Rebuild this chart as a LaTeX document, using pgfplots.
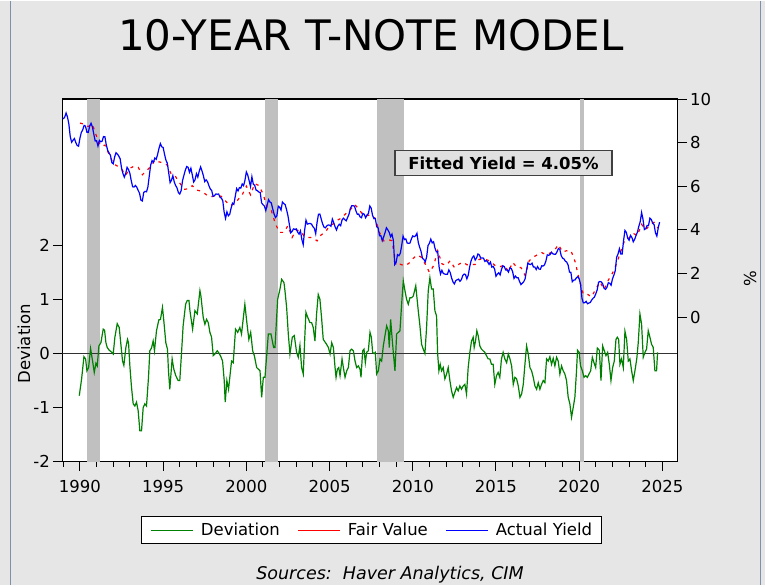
\documentclass[border=0pt]{standalone}
\usepackage{pgfplots}
\pgfplotsset{compat=1.18}
\usepackage{fontspec}
\setmainfont{DejaVu Sans}
\definecolor{bgc}{RGB}{230,230,230}
\definecolor{bandc}{RGB}{192,192,192}
\definecolor{devc}{RGB}{0,128,0}
\definecolor{framec}{RGB}{125,145,170}
\definecolor{boxc}{RGB}{224,224,224}
\newcommand{\tf}{\fontsize{16.5}{18}\selectfont}
\newcommand{\legline}[1]{\textcolor{#1}{\rule[4.6pt]{42pt}{1.4pt}}}
\newcommand{\LEG}{\legline{devc}\hspace{8pt}Deviation\hspace{18pt}\legline{red}\hspace{8pt}Fair Value\hspace{18pt}\legline{blue}\hspace{8pt}Actual Yield}
\begin{document}
\begin{tikzpicture}[x=1pt,y=1pt]
\fill[bgc] (0,0) rectangle (765,584);
\draw[framec, line width=1.5pt] (10.5,0) -- (10.5,584);
\draw[framec, line width=1.5pt] (760.5,0) -- (760.5,584);
\node[anchor=base, font=\fontsize{42}{42}\selectfont] at (371,534) {10-YEAR T-NOTE MODEL};
\begin{axis}[
  at={(62.3pt,123pt)}, anchor=south west, scale only axis,
  width=615.4pt, height=362.7pt,
  xmin=1988.94, xmax=2025.92, ymin=-2, ymax=4.7,
  axis background/.style={fill=white},
  axis line style={line width=1.2pt},
  tick pos=left, tick align=outside,
  major tick length=9pt, minor tick length=5pt,
  tick style={black, line width=1pt},
  xtick={1990,1995,2000,2005,2010,2015,2020,2025},
  xticklabels={1990,1995,2000,2005,2010,2015,2020,2025},
  minor xtick={1989,1990,...,2025},
  ytick={-2,-1,0,1,2},
  yticklabels={-2,-1,0,1,2},
  ticklabel style={font=\tf},
  xticklabel style={yshift=-6pt},
]
\addplot[fill=bandc, draw=none] coordinates {(1990.45,-2) (1990.45,4.7) (1991.22,4.7) (1991.22,-2)} -- cycle;
\addplot[fill=bandc, draw=none] coordinates {(2001.11,-2) (2001.11,4.7) (2001.92,4.7) (2001.92,-2)} -- cycle;
\addplot[fill=bandc, draw=none] coordinates {(2007.85,-2) (2007.85,4.7) (2009.45,4.7) (2009.45,-2)} -- cycle;
\addplot[fill=bandc, draw=none] coordinates {(2020.06,-2) (2020.06,4.7) (2020.29,4.7) (2020.29,-2)} -- cycle;
\addplot[color=black!80, line width=1.3pt] coordinates {(1988.94,0) (2025.92,0)};
\addplot[color=devc, line width=1.2pt] table[row sep=\\] {
x y\\
1989.96 -0.78\\ 1990.10 -0.47\\ 1990.24 -0.06\\ 1990.34 -0.10\\ 1990.42 -0.32\\ 1990.52 -0.26\\
1990.64 0.09\\ 1990.76 -0.14\\ 1990.86 -0.35\\ 1990.96 -0.18\\ 1991.04 -0.23\\ 1991.14 0.14\\
1991.26 0.20\\ 1991.40 0.45\\ 1991.48 0.43\\ 1991.56 0.20\\ 1991.64 0.11\\ 1991.76 0.06\\
1991.92 0.02\\ 1992.00 -0.01\\ 1992.10 0.30\\ 1992.24 0.55\\ 1992.36 0.48\\ 1992.46 0.17\\
1992.56 -0.14\\ 1992.64 -0.22\\ 1992.76 0.11\\ 1992.86 0.26\\ 1992.92 0.20\\ 1993.00 -0.23\\
1993.10 -0.63\\ 1993.20 -0.93\\ 1993.30 -0.97\\ 1993.40 -0.90\\ 1993.50 -1.06\\ 1993.60 -1.43\\
1993.70 -1.43\\ 1993.80 -1.00\\ 1993.90 -0.93\\ 1994.00 -0.97\\ 1994.12 -0.44\\ 1994.20 0.05\\
1994.30 0.10\\ 1994.40 0.23\\ 1994.48 0.05\\ 1994.60 0.42\\ 1994.74 0.62\\ 1994.84 0.63\\
1994.96 0.85\\ 1995.06 0.54\\ 1995.16 0.20\\ 1995.26 0.08\\ 1995.32 -0.32\\ 1995.40 -0.66\\
1995.54 -0.10\\ 1995.64 -0.29\\ 1995.76 -0.41\\ 1995.90 -0.50\\ 1996.00 -0.50\\ 1996.10 -0.01\\
1996.20 0.51\\ 1996.35 0.91\\ 1996.45 0.98\\ 1996.55 0.98\\ 1996.61 0.79\\ 1996.77 0.45\\
1996.91 0.79\\ 1997.05 0.73\\ 1997.21 1.16\\ 1997.27 1.06\\ 1997.41 0.66\\ 1997.51 0.54\\
1997.61 0.63\\ 1997.71 0.57\\ 1997.81 0.39\\ 1997.91 0.30\\ 1998.01 -0.04\\ 1998.11 -0.01\\
1998.25 0.05\\ 1998.37 0.00\\ 1998.47 -0.06\\ 1998.57 -0.14\\ 1998.67 -0.50\\ 1998.73 -0.90\\
1998.83 -0.50\\ 1998.93 -0.66\\ 1999.11 -0.14\\ 1999.21 -0.17\\ 1999.35 0.45\\ 1999.48 0.39\\
1999.61 0.48\\ 1999.71 0.36\\ 1999.91 0.91\\ 2000.03 0.57\\ 2000.15 0.26\\ 2000.26 0.39\\
2000.38 0.05\\ 2000.48 -0.04\\ 2000.62 -0.26\\ 2000.82 -0.32\\ 2000.92 -0.81\\ 2001.02 -0.44\\
2001.12 -0.44\\ 2001.32 0.36\\ 2001.48 0.36\\ 2001.64 0.11\\ 2001.72 0.11\\ 2001.88 1.00\\
2002.02 1.19\\ 2002.12 1.37\\ 2002.26 1.31\\ 2002.32 1.16\\ 2002.42 0.85\\ 2002.52 0.36\\
2002.62 -0.01\\ 2002.76 0.30\\ 2002.88 0.33\\ 2003.02 0.02\\ 2003.12 -0.07\\ 2003.22 0.15\\
2003.32 -0.26\\ 2003.42 -0.38\\ 2003.52 0.36\\ 2003.58 0.76\\ 2003.66 0.69\\ 2003.82 0.57\\
2003.92 0.57\\ 2004.02 0.48\\ 2004.12 0.23\\ 2004.22 0.73\\ 2004.32 1.09\\ 2004.42 1.00\\
2004.52 0.66\\ 2004.62 0.26\\ 2004.82 0.17\\ 2004.93 0.11\\ 2005.03 -0.01\\ 2005.13 0.20\\
2005.23 0.11\\ 2005.33 -0.26\\ 2005.39 -0.44\\ 2005.47 -0.29\\ 2005.55 -0.26\\ 2005.63 -0.41\\
2005.75 -0.10\\ 2005.83 -0.26\\ 2005.93 -0.44\\ 2006.03 -0.32\\ 2006.13 -0.26\\ 2006.23 0.05\\
2006.33 0.08\\ 2006.43 0.05\\ 2006.53 -0.14\\ 2006.63 -0.26\\ 2006.73 -0.23\\ 2006.83 -0.29\\
2006.89 -0.44\\ 2006.99 0.05\\ 2007.07 0.08\\ 2007.15 -0.17\\ 2007.23 0.02\\ 2007.33 0.05\\
2007.43 0.39\\ 2007.51 0.30\\ 2007.59 0.02\\ 2007.67 0.00\\ 2007.75 0.02\\ 2007.83 -0.38\\
2007.93 -0.32\\ 2008.03 -0.10\\ 2008.13 -0.14\\ 2008.23 0.14\\ 2008.33 0.33\\ 2008.43 0.51\\
2008.53 0.42\\ 2008.59 0.11\\ 2008.67 0.63\\ 2008.73 0.39\\ 2008.83 0.02\\ 2008.93 -0.32\\
2009.03 0.36\\ 2009.13 0.39\\ 2009.23 0.42\\ 2009.33 0.91\\ 2009.43 1.34\\ 2009.53 1.16\\
2009.63 1.00\\ 2009.73 0.91\\ 2009.83 1.03\\ 2009.93 1.03\\ 2010.03 1.06\\ 2010.18 1.25\\
2010.33 0.79\\ 2010.43 0.51\\ 2010.53 0.17\\ 2010.63 0.08\\ 2010.73 0.00\\ 2010.83 0.48\\
2010.93 1.16\\ 2011.03 1.40\\ 2011.13 1.19\\ 2011.23 1.19\\ 2011.33 0.79\\ 2011.43 0.69\\
2011.49 0.02\\ 2011.57 -0.32\\ 2011.65 -0.20\\ 2011.73 -0.32\\ 2011.83 -0.26\\ 2011.93 -0.47\\
2012.03 -0.38\\ 2012.13 -0.26\\ 2012.23 -0.50\\ 2012.33 -0.69\\ 2012.43 -0.81\\ 2012.53 -0.72\\
2012.63 -0.63\\ 2012.73 -0.69\\ 2012.83 -0.60\\ 2012.93 -0.66\\ 2013.03 -0.60\\ 2013.13 -0.57\\
2013.23 -0.75\\ 2013.33 -0.26\\ 2013.43 0.02\\ 2013.53 0.23\\ 2013.63 0.30\\ 2013.69 0.11\\
2013.77 0.23\\ 2013.85 0.42\\ 2013.93 0.33\\ 2014.03 0.14\\ 2014.13 0.08\\ 2014.23 0.05\\
2014.33 0.02\\ 2014.43 -0.04\\ 2014.53 -0.10\\ 2014.63 -0.10\\ 2014.73 -0.20\\ 2014.83 -0.20\\
2014.93 -0.57\\ 2015.03 -0.41\\ 2015.13 -0.35\\ 2015.23 -0.44\\ 2015.33 -0.10\\ 2015.43 0.02\\
2015.53 -0.10\\ 2015.64 -0.17\\ 2015.74 -0.01\\ 2015.84 -0.10\\ 2015.94 -0.23\\ 2016.04 -0.57\\
2016.14 -0.44\\ 2016.24 -0.47\\ 2016.34 -0.60\\ 2016.44 -0.81\\ 2016.54 -0.75\\ 2016.64 -0.57\\
2016.74 -0.20\\ 2016.84 0.14\\ 2016.94 -0.01\\ 2017.04 -0.26\\ 2017.14 -0.32\\ 2017.24 -0.44\\
2017.34 -0.60\\ 2017.44 -0.66\\ 2017.54 -0.54\\ 2017.64 -0.66\\ 2017.74 -0.57\\ 2017.84 -0.50\\
2017.94 -0.54\\ 2018.04 -0.10\\ 2018.14 -0.14\\ 2018.24 -0.06\\ 2018.34 -0.20\\ 2018.44 -0.09\\
2018.54 -0.23\\ 2018.64 -0.07\\ 2018.74 -0.14\\ 2018.84 -0.38\\ 2018.94 -0.23\\ 2019.04 -0.32\\
2019.14 -0.38\\ 2019.24 -0.50\\ 2019.34 -0.81\\ 2019.44 -0.93\\ 2019.54 -1.18\\ 2019.64 -1.00\\
2019.74 -0.81\\ 2019.84 -0.32\\ 2019.90 0.06\\ 2020.00 0.02\\ 2020.08 -0.23\\ 2020.19 -0.32\\
2020.29 -0.44\\ 2020.39 -0.41\\ 2020.49 -0.44\\ 2020.59 -0.38\\ 2020.69 -0.32\\ 2020.79 -0.07\\
2020.89 -0.17\\ 2020.99 -0.26\\ 2021.09 0.10\\ 2021.21 0.06\\ 2021.31 -0.50\\ 2021.41 0.14\\
2021.51 0.05\\ 2021.61 -0.04\\ 2021.71 0.02\\ 2021.81 -0.20\\ 2021.91 -0.50\\ 2022.01 -0.26\\
2022.11 -0.14\\ 2022.21 0.26\\ 2022.29 0.30\\ 2022.37 0.26\\ 2022.45 -0.20\\ 2022.55 -0.10\\
2022.65 -0.26\\ 2022.75 0.41\\ 2022.85 0.26\\ 2022.95 -0.14\\ 2023.05 -0.10\\ 2023.15 -0.32\\
2023.25 -0.50\\ 2023.35 -0.32\\ 2023.46 -0.10\\ 2023.55 0.20\\ 2023.65 0.73\\ 2023.75 0.54\\
2023.85 -0.07\\ 2023.95 0.02\\ 2024.05 0.08\\ 2024.15 0.42\\ 2024.25 0.30\\ 2024.35 0.17\\
2024.45 0.11\\ 2024.55 -0.32\\ 2024.65 -0.32\\ 2024.71 0.02\\
};
\end{axis}
\begin{axis}[
  at={(62.3pt,123pt)}, anchor=south west, scale only axis,
  width=615.4pt, height=362.7pt,
  xmin=1988.94, xmax=2025.92, ymin=-6.62, ymax=10,
  hide x axis,
  axis y line*=right,
  axis line style={line width=1.2pt},
  tick align=outside, major tick length=9pt,
  tick style={black, line width=1pt},
  ytick={0,2,4,6,8,10},
  yticklabels={0,2,4,6,8,10},
  ticklabel style={font=\tf},
]
\addplot[red, line width=1.2pt, dash pattern=on 3pt off 5pt] table[row sep=\\] {
x y\\
1990.00 8.90\\ 1990.25 8.85\\ 1990.50 8.74\\ 1990.75 8.84\\ 1991.00 8.29\\ 1991.25 7.84\\
1991.50 7.89\\ 1991.75 7.47\\ 1992.00 7.04\\ 1992.25 6.93\\ 1992.50 6.79\\ 1992.75 6.51\\
1993.00 6.83\\ 1993.25 6.92\\ 1993.50 6.87\\ 1993.75 6.53\\ 1994.00 6.72\\ 1994.25 6.90\\
1994.50 7.20\\ 1994.75 7.12\\ 1995.00 7.08\\ 1995.25 6.97\\ 1995.50 6.53\\ 1995.75 6.44\\
1996.00 6.15\\ 1996.25 5.86\\ 1996.50 5.89\\ 1996.75 6.03\\ 1997.00 5.83\\ 1997.25 5.79\\
1997.50 5.67\\ 1997.75 5.53\\ 1998.00 5.54\\ 1998.25 5.59\\ 1998.50 5.54\\ 1998.75 5.33\\
1999.00 5.12\\ 1999.25 5.18\\ 1999.50 5.39\\ 1999.75 5.61\\ 2000.00 6.01\\ 2000.25 5.61\\
2000.50 6.12\\ 2000.75 6.04\\ 2001.00 5.66\\ 2001.25 5.04\\ 2001.50 4.89\\ 2001.75 4.27\\
2002.00 3.89\\ 2002.25 3.89\\ 2002.50 4.20\\ 2002.75 3.66\\ 2003.00 4.00\\ 2003.25 3.96\\
2003.50 3.68\\ 2003.75 3.66\\ 2004.00 3.65\\ 2004.25 3.50\\ 2004.50 3.78\\ 2004.75 3.90\\
2005.00 4.20\\ 2005.25 4.29\\ 2005.50 4.46\\ 2005.75 4.56\\ 2006.00 4.77\\ 2006.25 4.93\\
2006.50 5.17\\ 2006.75 4.97\\ 2007.00 4.70\\ 2007.25 4.66\\ 2007.50 4.69\\ 2007.75 4.51\\
2008.00 3.89\\ 2008.25 3.50\\ 2008.50 3.56\\ 2008.75 3.51\\ 2009.00 2.37\\ 2009.25 2.43\\
2009.50 2.36\\ 2009.75 2.46\\ 2010.00 2.68\\ 2010.25 2.85\\ 2010.50 2.76\\ 2010.75 2.44\\
2011.00 2.06\\ 2011.25 2.36\\ 2011.50 3.05\\ 2011.75 2.45\\ 2012.00 2.38\\ 2012.25 2.59\\
2012.50 2.28\\ 2012.75 2.42\\ 2013.00 2.53\\ 2013.25 2.41\\ 2013.50 2.41\\ 2013.75 2.42\\
2014.00 2.66\\ 2014.25 2.67\\ 2014.50 2.62\\ 2014.75 2.50\\ 2015.00 2.34\\ 2015.25 2.32\\
2015.50 2.39\\ 2015.75 2.09\\ 2016.00 2.52\\ 2016.25 2.29\\ 2016.50 2.28\\ 2016.75 1.92\\
2017.00 2.59\\ 2017.25 2.76\\ 2017.50 2.87\\ 2017.75 2.96\\ 2018.00 2.88\\ 2018.25 2.94\\
2018.50 3.05\\ 2018.75 3.33\\ 2019.00 2.99\\ 2019.25 3.05\\ 2019.50 3.06\\ 2019.75 2.56\\
2020.00 1.74\\ 2020.25 1.05\\ 2020.50 1.05\\ 2020.75 0.94\\ 2021.00 1.30\\ 2021.25 1.62\\
2021.50 1.27\\ 2021.75 1.70\\ 2022.00 2.02\\ 2022.25 2.47\\ 2022.50 3.02\\ 2022.75 3.57\\
2023.00 3.64\\ 2023.25 3.84\\ 2023.50 3.75\\ 2023.75 4.26\\ 2024.00 4.01\\ 2024.25 4.24\\
2024.50 4.35\\ 2024.75 4.08\\
};
\addplot[blue, line width=1.2pt] table[row sep=\\] {
x y\\
1989.000 9.09\\ 1989.083 9.17\\ 1989.167 9.36\\ 1989.250 9.18\\ 1989.333 8.86\\ 1989.417 8.28\\ 1989.500 8.02\\ 1989.583 8.11\\ 1989.667 8.19\\ 1989.750 8.01\\ 1989.833 7.87\\ 1989.917 7.84\\
1990.000 8.21\\ 1990.083 8.47\\ 1990.167 8.59\\ 1990.250 8.79\\ 1990.333 8.76\\ 1990.417 8.48\\ 1990.500 8.47\\ 1990.583 8.75\\ 1990.667 8.89\\ 1990.750 8.72\\ 1990.833 8.39\\ 1990.917 8.08\\
1991.000 8.09\\ 1991.083 7.85\\ 1991.167 8.11\\ 1991.250 8.04\\ 1991.333 8.07\\ 1991.417 8.28\\ 1991.500 8.27\\ 1991.583 7.90\\ 1991.667 7.65\\ 1991.750 7.53\\ 1991.833 7.42\\ 1991.917 7.09\\
1992.000 7.03\\ 1992.083 7.34\\ 1992.167 7.54\\ 1992.250 7.48\\ 1992.333 7.39\\ 1992.417 7.26\\ 1992.500 6.84\\ 1992.583 6.59\\ 1992.667 6.42\\ 1992.750 6.59\\ 1992.833 6.87\\ 1992.917 6.77\\
1993.000 6.60\\ 1993.083 6.26\\ 1993.167 5.98\\ 1993.250 5.97\\ 1993.333 6.04\\ 1993.417 5.96\\ 1993.500 5.81\\ 1993.583 5.68\\ 1993.667 5.36\\ 1993.750 5.33\\ 1993.833 5.72\\ 1993.917 5.77\\
1994.000 5.75\\ 1994.083 5.97\\ 1994.167 6.48\\ 1994.250 6.97\\ 1994.333 7.18\\ 1994.417 7.10\\ 1994.500 7.30\\ 1994.583 7.24\\ 1994.667 7.46\\ 1994.750 7.74\\ 1994.833 7.96\\ 1994.917 7.81\\
1995.000 7.78\\ 1995.083 7.47\\ 1995.167 7.20\\ 1995.250 7.06\\ 1995.333 6.63\\ 1995.417 6.17\\ 1995.500 6.28\\ 1995.583 6.49\\ 1995.667 6.20\\ 1995.750 6.04\\ 1995.833 5.93\\ 1995.917 5.71\\
1996.000 5.65\\ 1996.083 5.81\\ 1996.167 6.27\\ 1996.250 6.51\\ 1996.333 6.74\\ 1996.417 6.91\\ 1996.500 6.87\\ 1996.583 6.64\\ 1996.667 6.83\\ 1996.750 6.53\\ 1996.833 6.20\\ 1996.917 6.30\\
1997.000 6.58\\ 1997.083 6.42\\ 1997.167 6.69\\ 1997.250 6.89\\ 1997.333 6.71\\ 1997.417 6.49\\ 1997.500 6.22\\ 1997.583 6.30\\ 1997.667 6.21\\ 1997.750 6.03\\ 1997.833 5.88\\ 1997.917 5.81\\
1998.000 5.54\\ 1998.083 5.57\\ 1998.167 5.65\\ 1998.250 5.64\\ 1998.333 5.65\\ 1998.417 5.50\\ 1998.500 5.46\\ 1998.583 5.34\\ 1998.667 4.81\\ 1998.750 4.53\\ 1998.833 4.83\\ 1998.917 4.65\\
1999.000 4.72\\ 1999.083 5.00\\ 1999.167 5.23\\ 1999.250 5.18\\ 1999.333 5.54\\ 1999.417 5.90\\ 1999.500 5.79\\ 1999.583 5.94\\ 1999.667 5.92\\ 1999.750 6.11\\ 1999.833 6.03\\ 1999.917 6.28\\
2000.000 6.66\\ 2000.083 6.52\\ 2000.167 6.26\\ 2000.250 5.99\\ 2000.333 6.44\\ 2000.417 6.10\\ 2000.500 6.05\\ 2000.583 5.83\\ 2000.667 5.80\\ 2000.750 5.74\\ 2000.833 5.72\\ 2000.917 5.24\\
2001.000 5.16\\ 2001.083 5.10\\ 2001.167 4.89\\ 2001.250 5.14\\ 2001.333 5.39\\ 2001.417 5.28\\ 2001.500 5.24\\ 2001.583 4.97\\ 2001.667 4.73\\ 2001.750 4.57\\ 2001.833 4.65\\ 2001.917 5.09\\
2002.000 5.04\\ 2002.083 4.91\\ 2002.167 5.28\\ 2002.250 5.21\\ 2002.333 5.16\\ 2002.417 4.93\\ 2002.500 4.65\\ 2002.583 4.26\\ 2002.667 3.87\\ 2002.750 3.94\\ 2002.833 4.05\\ 2002.917 4.03\\
2003.000 4.05\\ 2003.083 3.90\\ 2003.167 3.81\\ 2003.250 3.96\\ 2003.333 3.57\\ 2003.417 3.33\\ 2003.500 3.98\\ 2003.583 4.45\\ 2003.667 4.27\\ 2003.750 4.29\\ 2003.833 4.30\\ 2003.917 4.27\\
2004.000 4.15\\ 2004.083 4.08\\ 2004.167 3.83\\ 2004.250 4.35\\ 2004.333 4.72\\ 2004.417 4.73\\ 2004.500 4.50\\ 2004.583 4.28\\ 2004.667 4.13\\ 2004.750 4.10\\ 2004.833 4.19\\ 2004.917 4.23\\
2005.000 4.22\\ 2005.083 4.17\\ 2005.167 4.50\\ 2005.250 4.34\\ 2005.333 4.14\\ 2005.417 4.00\\ 2005.500 4.18\\ 2005.583 4.26\\ 2005.667 4.20\\ 2005.750 4.46\\ 2005.833 4.54\\ 2005.917 4.47\\
2006.000 4.42\\ 2006.083 4.57\\ 2006.167 4.72\\ 2006.250 4.99\\ 2006.333 5.11\\ 2006.417 5.11\\ 2006.500 5.09\\ 2006.583 4.88\\ 2006.667 4.72\\ 2006.750 4.73\\ 2006.833 4.60\\ 2006.917 4.56\\
2007.000 4.76\\ 2007.083 4.72\\ 2007.167 4.56\\ 2007.250 4.69\\ 2007.333 4.75\\ 2007.417 5.10\\ 2007.500 5.00\\ 2007.583 4.67\\ 2007.667 4.52\\ 2007.750 4.53\\ 2007.833 4.15\\ 2007.917 4.10\\
2008.000 3.74\\ 2008.083 3.74\\ 2008.167 3.51\\ 2008.250 3.68\\ 2008.333 3.88\\ 2008.417 4.10\\ 2008.500 4.01\\ 2008.583 3.89\\ 2008.667 3.69\\ 2008.750 3.81\\ 2008.833 3.53\\ 2008.917 2.42\\
2009.000 2.52\\ 2009.083 2.87\\ 2009.167 2.82\\ 2009.250 2.93\\ 2009.333 3.29\\ 2009.417 3.72\\ 2009.500 3.56\\ 2009.583 3.59\\ 2009.667 3.40\\ 2009.750 3.39\\ 2009.833 3.40\\ 2009.917 3.59\\
2010.000 3.73\\ 2010.083 3.69\\ 2010.167 3.73\\ 2010.250 3.85\\ 2010.333 3.42\\ 2010.417 3.20\\ 2010.500 3.01\\ 2010.583 2.70\\ 2010.667 2.65\\ 2010.750 2.54\\ 2010.833 2.76\\ 2010.917 3.29\\
2011.000 3.39\\ 2011.083 3.58\\ 2011.167 3.41\\ 2011.250 3.46\\ 2011.333 3.17\\ 2011.417 3.00\\ 2011.500 3.00\\ 2011.583 2.30\\ 2011.667 1.98\\ 2011.750 2.15\\ 2011.833 2.01\\ 2011.917 1.98\\
2012.000 1.97\\ 2012.083 1.97\\ 2012.167 2.17\\ 2012.250 2.05\\ 2012.333 1.80\\ 2012.417 1.62\\ 2012.500 1.53\\ 2012.583 1.68\\ 2012.667 1.72\\ 2012.750 1.75\\ 2012.833 1.65\\ 2012.917 1.72\\
2013.000 1.91\\ 2013.083 1.98\\ 2013.167 1.96\\ 2013.250 1.76\\ 2013.333 1.93\\ 2013.417 2.30\\ 2013.500 2.58\\ 2013.583 2.74\\ 2013.667 2.81\\ 2013.750 2.62\\ 2013.833 2.72\\ 2013.917 2.90\\
2014.000 2.86\\ 2014.083 2.71\\ 2014.167 2.72\\ 2014.250 2.71\\ 2014.333 2.56\\ 2014.417 2.60\\ 2014.500 2.54\\ 2014.583 2.42\\ 2014.667 2.53\\ 2014.750 2.30\\ 2014.833 2.33\\ 2014.917 2.21\\
2015.000 1.88\\ 2015.083 1.98\\ 2015.167 2.04\\ 2015.250 1.94\\ 2015.333 2.20\\ 2015.417 2.36\\ 2015.500 2.32\\ 2015.583 2.17\\ 2015.667 2.17\\ 2015.750 2.07\\ 2015.833 2.26\\ 2015.917 2.24\\
2016.000 2.09\\ 2016.083 1.78\\ 2016.167 1.89\\ 2016.250 1.81\\ 2016.333 1.81\\ 2016.417 1.64\\ 2016.500 1.50\\ 2016.583 1.56\\ 2016.667 1.63\\ 2016.750 1.76\\ 2016.833 2.14\\ 2016.917 2.49\\
2017.000 2.43\\ 2017.083 2.42\\ 2017.167 2.48\\ 2017.250 2.30\\ 2017.333 2.30\\ 2017.417 2.19\\ 2017.500 2.32\\ 2017.583 2.21\\ 2017.667 2.20\\ 2017.750 2.36\\ 2017.833 2.35\\ 2017.917 2.40\\
2018.000 2.58\\ 2018.083 2.86\\ 2018.167 2.84\\ 2018.250 2.87\\ 2018.333 2.98\\ 2018.417 2.91\\ 2018.500 2.89\\ 2018.583 2.89\\ 2018.667 3.00\\ 2018.750 3.15\\ 2018.833 3.12\\ 2018.917 2.83\\
2019.000 2.71\\ 2019.083 2.68\\ 2019.167 2.57\\ 2019.250 2.53\\ 2019.333 2.40\\ 2019.417 2.07\\ 2019.500 2.06\\ 2019.583 1.63\\ 2019.667 1.70\\ 2019.750 1.71\\ 2019.833 1.81\\ 2019.917 1.86\\
2020.000 1.76\\ 2020.083 1.50\\ 2020.167 0.87\\ 2020.250 0.66\\ 2020.333 0.67\\ 2020.417 0.73\\ 2020.500 0.62\\ 2020.583 0.65\\ 2020.667 0.68\\ 2020.750 0.79\\ 2020.833 0.87\\ 2020.917 0.93\\
2021.000 1.08\\ 2021.083 1.26\\ 2021.167 1.61\\ 2021.250 1.64\\ 2021.333 1.62\\ 2021.417 1.52\\ 2021.500 1.32\\ 2021.583 1.28\\ 2021.667 1.37\\ 2021.750 1.58\\ 2021.833 1.56\\ 2021.917 1.47\\
2022.000 1.76\\ 2022.083 1.93\\ 2022.167 2.13\\ 2022.250 2.75\\ 2022.333 2.90\\ 2022.417 3.14\\ 2022.500 2.90\\ 2022.583 2.90\\ 2022.667 3.52\\ 2022.750 3.98\\ 2022.833 3.89\\ 2022.917 3.62\\
2023.000 3.53\\ 2023.083 3.75\\ 2023.167 3.66\\ 2023.250 3.46\\ 2023.333 3.57\\ 2023.417 3.75\\ 2023.500 3.90\\ 2023.583 4.17\\ 2023.667 4.38\\ 2023.750 4.80\\ 2023.833 4.50\\ 2023.917 4.02\\
2024.000 4.06\\ 2024.083 4.21\\ 2024.167 4.21\\ 2024.250 4.54\\ 2024.333 4.48\\ 2024.417 4.31\\ 2024.500 4.25\\ 2024.583 3.87\\ 2024.667 3.72\\ 2024.750 4.10\\ 2024.833 4.36\\
};
\end{axis}
\node[draw=black!75, line width=1.5pt, fill=boxc, inner sep=2pt, font=\bfseries\tf, minimum width=217pt, minimum height=25pt] at (503.5,421.5) {Fitted Yield = 4.05\%};
\node[rotate=90, font=\tf] at (24,241) {Deviation};
\node[rotate=90, font=\tf] at (750,306) {\%};
\node[fill=white, draw=black, line width=1pt, inner xsep=9pt, inner ysep=7pt, font=\tf] at (371.5,55) {\phantom{\LEG}};
\node[inner xsep=9pt, inner ysep=7pt, font=\tf] at (371.5,55) {\LEG};
\node[anchor=base, font=\itshape\fontsize{17.5}{19}\selectfont] at (390,5) {Sources:\ \ Haver Analytics, CIM};
\end{tikzpicture}
\end{document}
